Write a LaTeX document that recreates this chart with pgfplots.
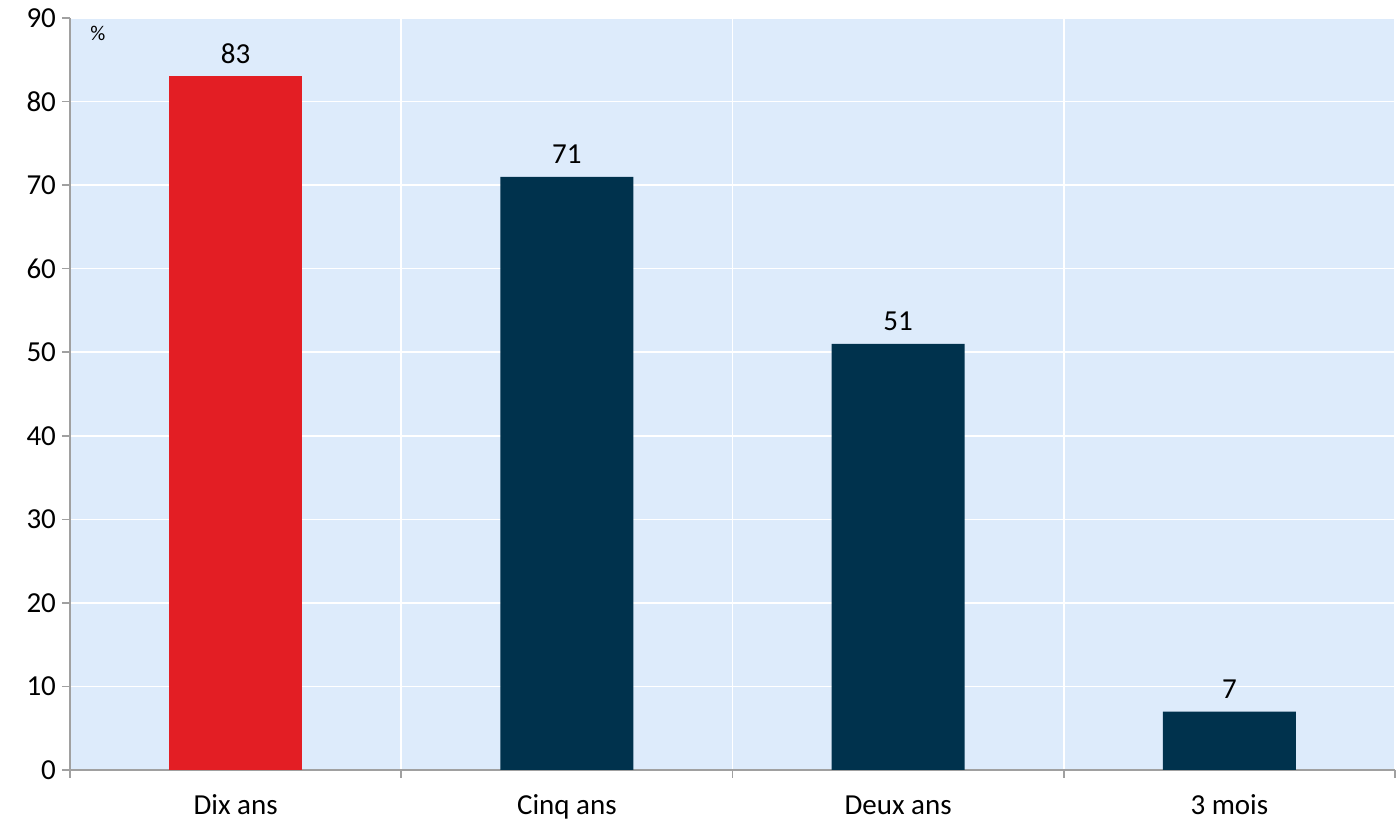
\documentclass[border=0pt]{standalone}
\usepackage{fontspec}
\setmainfont{Carlito}
\usepackage{pgfplots}
\pgfplotsset{compat=1.18}
\definecolor{barred}{HTML}{E31E24}
\definecolor{barnavy}{HTML}{00324D}
\definecolor{plotbg}{HTML}{DDEBFB}
\definecolor{axisgray}{HTML}{A0A0A0}
\begin{document}
\begin{tikzpicture}
	\begin{axis}[
		scale only axis,
		width = 662.5pt,
		height = 376pt,
		xmin = -0.5, xmax = 3.5,
		ymin = 0, ymax = 90,
		ytick = {0,10,...,90},
		% ticks at category boundaries, labels shifted to the middle
		xtick = {-0.5,0.5,1.5,2.5,3.5},
		xticklabels = {Dix ans, Cinq ans, Deux ans, 3 mois, {}},
		x tick label style = {xshift=82.8pt, yshift=-7.5pt, text height=0.7em, text depth=0.22em},
		major tick length = 4pt,
		tick align = outside,
		axis lines* = left,
		axis line style = {axisgray, line width=0.8pt},
		tick style = {axisgray, line width=0.8pt},
		xmajorgrids, ymajorgrids,
		grid style = {white, line width=0.8pt},
		axis background/.style = {fill=plotbg},
		ybar,
		bar width = 66.5pt,
		bar shift = 0pt,
		nodes near coords,
		nodes near coords style = {font=\fontsize{14.5}{17}\selectfont, black, yshift=3pt},
		ticklabel style = {font=\fontsize{14.5}{17}\selectfont, black},
		/pgf/number format/assume math mode=true,
		y tick label style = {xshift=0.5pt},
		clip = false,
	]
		\addplot[fill=barred, draw=none] coordinates {
		( 0, 83 )
		};
		\addplot[fill=barnavy, draw=none] coordinates {
		( 1, 71 )
		( 2, 51 )
		( 3, 7 )
		};
		\node[font=\fontsize{10.5}{12}\selectfont, anchor=center]
			at (axis description cs:0.021,0.98) {\%};
	\end{axis}
	\pgfresetboundingbox
	\path (current axis.south west) ++(-35pt,-26.5pt) coordinate (bbl);
	\path (current axis.north east) ++(0.5pt,9pt) coordinate (btr);
	\useasboundingbox (bbl) rectangle (btr);
\end{tikzpicture}
\end{document}
